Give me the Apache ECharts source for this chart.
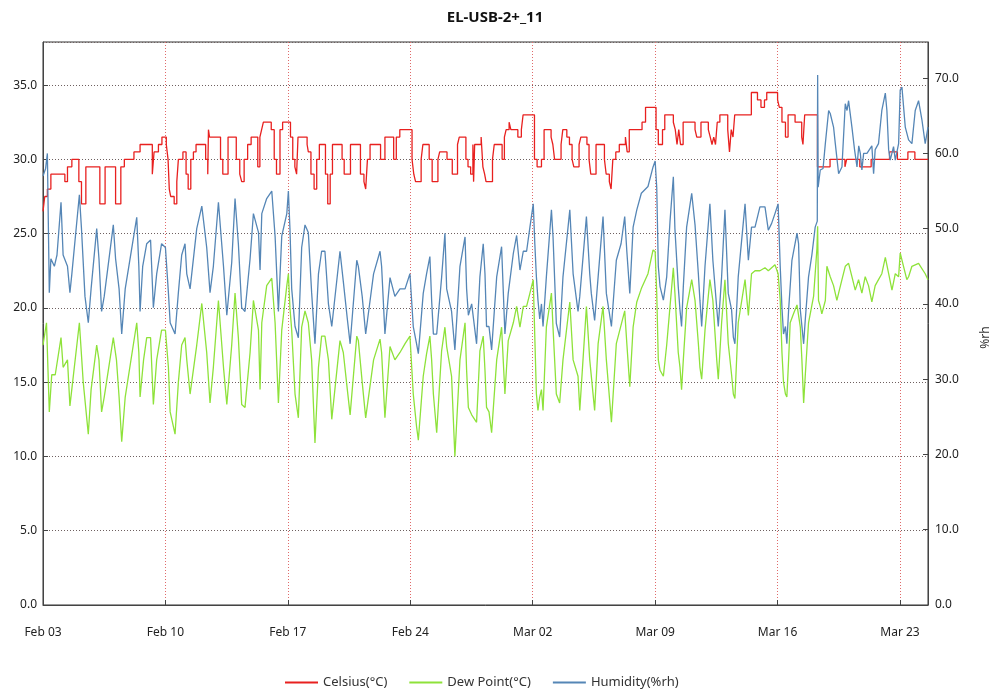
<!DOCTYPE html>
<html>
<head>
<meta charset="utf-8">
<title>EL-USB-2+_11</title>
<script src="https://cdn.jsdelivr.net/npm/echarts@6/dist/echarts.min.js"></script>
<style>
  html, body { margin: 0; padding: 0; background: #fff; }
  #chart { width: 994px; height: 692px; }
</style>
</head>
<body>
<div id="chart"></div>
<script>
// Logger EL-USB-2+_11, 3 Feb – 25 Mar. Times are days since Feb 03 00:00.
const weekLabels = ['Feb 03', 'Feb 10', 'Feb 17', 'Feb 24', 'Mar 02', 'Mar 09', 'Mar 16', 'Mar 23'];

// Temperature (°C), 0.5 °C resolution: each value holds until the next time
const celsiusDays = [
  0.00, 0.10, 0.25, 0.45, 1.25, 1.40, 1.65, 2.05, 2.20, 2.45, 3.25, 3.55, 4.15, 4.45, 4.65, 5.20, 5.55, 6.25, 6.35, 6.60, 6.80,
  7.05, 7.15, 7.22, 7.30, 7.50, 7.65, 7.74, 8.00, 8.18, 8.30, 8.45, 8.60, 8.75, 9.30, 9.42, 9.46, 9.52, 10.15, 10.28, 10.58,
  11.05, 11.25, 11.36, 11.50, 11.70, 11.90, 12.28, 12.40, 12.50, 12.60, 13.05, 13.22, 13.35, 13.55, 13.70,
  14.15, 14.28, 14.40, 14.50, 14.58, 15.10, 15.17, 15.32, 15.50, 15.65, 15.80, 16.15, 16.28, 16.42, 16.55, 17.10, 17.22, 17.58,
  18.15, 18.35, 18.45, 18.55, 18.70, 19.30, 19.55, 20.05, 20.20, 20.40,
  21.10, 21.20, 21.30, 21.62, 21.72, 22.08, 22.25, 22.58, 22.68, 23.10, 23.40, 23.70, 23.80, 24.18, 24.30, 24.45, 24.58, 24.62, 24.68,
  25.05, 25.15, 25.25, 25.33, 25.70, 25.80, 26.25, 26.38, 26.48, 26.65, 26.75, 27.15, 27.35, 27.45,
  28.10, 28.25, 28.50, 28.65, 29.05, 29.15, 29.25, 29.62, 29.72, 29.95, 30.10, 30.25, 30.35, 30.65, 30.75, 31.10, 31.22, 31.32, 31.62,
  32.10, 32.20, 32.38, 32.48, 32.58, 32.75, 32.95, 33.30, 33.40, 33.52, 34.25, 34.45,
  35.05, 35.18, 35.42, 35.55, 36.04, 36.15, 36.25, 36.35, 36.45, 36.60, 37.28, 37.38, 37.62, 38.04, 38.15, 38.25, 38.35, 38.45, 38.55, 38.70,
  39.15, 39.25, 39.35, 39.45, 39.55, 40.50, 40.85, 41.05, 41.25, 41.38,
  42.00, 42.10, 42.25, 42.45, 42.60, 43.00, 43.38, 43.45, 43.55, 44.28, 45.00, 45.85, 45.95, 46.70, 47.35, 48.40, 48.85, 49.45, 49.85, 50.60
];
const celsiusVals = [
  26.5, 27.5, 28.0, 29.0, 28.5, 29.5, 30.0, 28.5, 27.0, 29.5, 27.0, 29.5, 27.0, 29.5, 30.0, 30.5, 31.0, 29.0, 30.5, 31.0, 31.5,
  31.0, 30.0, 28.0, 27.5, 27.0, 28.5, 30.0, 30.5, 29.0, 28.0, 30.0, 30.5, 31.0, 30.0, 29.0, 32.0, 31.5, 30.0, 29.0, 31.5,
  30.0, 29.0, 28.5, 30.0, 31.0, 31.5, 29.5, 31.5, 32.0, 32.5, 32.0, 30.0, 29.0, 32.0, 32.5,
  31.5, 30.0, 29.5, 29.0, 31.5, 31.0, 30.5, 29.0, 28.0, 30.0, 31.0, 29.0, 27.0, 29.0, 31.0, 30.0, 29.0, 31.0,
  29.0, 28.5, 28.0, 30.0, 31.0, 30.0, 31.5, 30.0, 31.5, 32.0,
  30.0, 29.0, 28.5, 30.0, 31.0, 30.0, 28.5, 30.0, 30.5, 30.0, 29.0, 31.0, 31.5, 30.0, 29.5, 29.0, 31.0, 28.5, 31.0,
  31.5, 29.5, 29.0, 28.5, 30.0, 31.0, 30.0, 31.5, 32.0, 32.5, 32.0, 31.5, 32.0, 33.0,
  30.0, 29.5, 30.0, 32.0, 31.5, 31.0, 30.0, 31.0, 32.0, 31.5, 31.0, 30.0, 29.5, 31.0, 31.5, 31.0, 30.0, 29.0, 31.0,
  30.0, 29.0, 28.5, 28.0, 30.0, 30.5, 31.0, 31.5, 30.5, 32.0, 32.5, 33.5,
  32.0, 31.0, 32.0, 33.0, 32.5, 32.0, 31.0, 32.0, 31.0, 32.5, 32.0, 31.5, 32.5, 32.0, 31.5, 31.0, 31.5, 31.0, 32.5, 33.0,
  32.0, 30.5, 32.0, 31.5, 33.0, 34.5, 34.0, 33.5, 34.0, 34.5,
  34.0, 33.5, 32.5, 31.5, 33.0, 32.5, 31.5, 31.0, 33.0, 29.5, 30.0, 29.5, 30.0, 29.5, 30.0, 30.5, 30.0, 30.5, 30.0, 30.0
];

// Dew point (°C)
const dewDays = [
  0.00, 0.20, 0.36, 0.50, 0.70, 1.03, 1.15, 1.40, 1.54, 2.08, 2.30, 2.59, 2.75, 3.07, 3.20, 3.35, 3.50, 4.02, 4.20, 4.35, 4.50, 4.70,
  5.36, 5.48, 5.55, 5.75, 5.93, 6.15, 6.31, 6.50, 6.78, 7.00,
  7.17, 7.27, 7.55, 7.74, 7.93, 8.12, 8.22, 8.41, 8.79, 9.08, 9.36, 9.55, 9.74, 10.03, 10.32, 10.51, 10.79, 10.98, 11.17, 11.36, 11.55,
  11.84, 12.03, 12.32, 12.41, 12.51, 12.79, 13.08, 13.27, 13.46, 13.65, 13.94, 14.03,
  14.12, 14.22, 14.41, 14.60, 14.79, 14.98, 15.17, 15.36, 15.55, 15.75, 15.93, 16.12, 16.32, 16.51, 16.98, 17.17, 17.40, 17.56,
  17.94, 18.03, 18.25, 18.45, 18.90, 19.27, 19.36, 19.55, 19.84, 20.12, 20.41, 20.70, 20.98,
  21.17, 21.36, 21.46, 21.74, 21.93, 22.12, 22.22, 22.32, 22.51, 22.79, 22.98, 23.08, 23.36, 23.55, 23.84, 24.13, 24.22, 24.32, 24.51,
  24.79, 24.98, 25.17, 25.27, 25.36, 25.50, 25.65, 25.94, 26.22, 26.41, 26.60, 26.89, 27.08, 27.27, 27.46, 27.65, 27.84, 28.03,
  28.12, 28.21, 28.30, 28.40, 28.50, 28.59, 28.78, 29.07, 29.16, 29.35, 29.54, 29.73, 30.12, 30.31, 30.59, 30.69, 31.07, 31.26, 31.54,
  31.74, 32.02, 32.21, 32.50, 32.78, 33.26, 33.38, 33.55, 33.74, 33.95, 34.21, 34.59, 34.88, 35.00,
  35.09, 35.18, 35.28, 35.47, 35.66, 35.85, 36.04, 36.13, 36.32, 36.42, 36.51, 36.61, 36.80, 37.09, 37.28, 37.47, 37.56, 37.66, 37.85,
  38.13, 38.30, 38.52, 38.61, 38.80, 38.99, 39.18, 39.37, 39.47, 39.56, 39.75, 40.14, 40.33, 40.51, 40.71, 40.99, 41.28, 41.47, 41.66,
  41.85, 42.03,
  42.15, 42.25, 42.34, 42.45, 42.53, 42.63, 42.72, 42.91, 43.11, 43.30, 43.39, 43.49, 43.58, 43.77, 44.06, 44.25, 44.29, 44.34, 44.44,
  44.53, 44.73, 44.82, 45.01, 45.20, 45.39, 45.49, 45.68, 45.87, 46.06, 46.25, 46.44, 46.63, 46.82, 47.01, 47.20, 47.39, 47.58, 47.77,
  47.96, 48.16, 48.35, 48.54, 48.73, 48.92, 49.01, 49.20, 49.39, 49.49, 49.68, 50.06, 50.44, 50.60
];
const dewVals = [
  17.5, 19.0, 13.0, 15.5, 15.5, 18.0, 16.0, 16.5, 13.4, 19.0, 15.0, 11.5, 14.5, 17.5, 16.5, 13.0, 14.0, 18.0, 16.5, 14.0, 11.0, 14.0,
  19.0, 17.0, 14.0, 16.5, 18.0, 18.0, 13.5, 16.5, 18.5, 18.5,
  16.0, 13.0, 11.5, 15.0, 17.5, 18.0, 16.5, 14.2, 17.5, 20.3, 17.0, 13.6, 16.0, 20.5, 16.0, 13.5, 17.5, 21.0, 18.0, 13.5, 13.3,
  17.0, 20.5, 18.5, 14.5, 19.0, 21.5, 22.0, 19.0, 13.6, 18.5, 21.5, 22.3,
  20.0, 18.5, 14.2, 12.6, 18.7, 19.8, 19.0, 16.5, 10.9, 16.0, 18.1, 18.1, 16.5, 12.5, 17.8, 17.0, 14.5, 12.8,
  18.1, 17.8, 15.0, 12.6, 16.5, 17.9, 17.0, 12.6, 17.4, 16.5, 17.0, 17.6, 18.1,
  14.2, 12.0, 11.1, 15.4, 16.9, 18.1, 16.5, 14.2, 11.6, 17.1, 18.7, 17.4, 15.4, 10.0, 16.5, 19.0, 15.8, 13.3, 12.8,
  12.3, 17.1, 18.1, 15.8, 13.3, 13.0, 11.6, 16.5, 18.7, 14.2, 17.8, 19.0, 20.1, 18.7, 20.1, 20.1, 21.0, 21.9,
  18.0, 14.2, 13.1, 14.0, 14.5, 13.1, 18.7, 21.0, 18.7, 14.2, 13.6, 16.5, 20.4, 16.5, 15.4, 13.1, 20.1, 16.5, 13.1,
  17.6, 20.1, 16.5, 12.3, 17.6, 19.8, 17.6, 14.7, 18.7, 20.4, 21.3, 22.3, 23.9, 23.8,
  21.0, 16.5, 15.8, 15.4, 17.5, 20.1, 22.7, 21.0, 17.0, 16.0, 14.5, 16.5, 20.0, 21.9, 20.5, 17.6, 16.0, 15.2, 18.5,
  21.9, 20.5, 16.5, 15.2, 19.0, 21.9, 17.6, 15.5, 14.2, 13.9, 19.0, 21.9, 19.5, 22.3, 22.5, 22.5, 22.7, 22.5, 22.7,
  22.9, 22.3,
  20.5, 17.0, 15.0, 14.2, 14.0, 16.5, 19.0, 19.6, 20.2, 18.7, 16.5, 13.6, 15.4, 19.0, 20.8, 24.0, 25.5, 20.5, 20.1,
  19.6, 20.5, 22.8, 22.1, 21.5, 20.5, 21.0, 21.9, 22.8, 23.0, 22.1, 21.2, 21.9, 21.0, 22.1, 21.5, 20.4, 21.5, 21.9,
  22.3, 23.4, 22.3, 21.2, 22.3, 22.1, 23.7, 22.8, 21.9, 22.1, 22.8, 23.0, 22.3, 21.9
];

// Relative humidity (%rh)
const humDays = [
  0.00, 0.15, 0.25, 0.36, 0.45, 0.65, 0.80, 1.03, 1.15, 1.40, 1.54, 1.65, 2.08, 2.20, 2.40, 2.59, 2.75, 3.07, 3.20, 3.35, 3.50,
  4.02, 4.15, 4.35, 4.50, 4.70, 5.36, 5.48, 5.55, 5.70, 5.93, 6.15, 6.31, 6.50, 6.78, 7.00,
  7.17, 7.27, 7.55, 7.74, 7.93, 8.12, 8.22, 8.41, 8.79, 9.08, 9.36, 9.55, 9.74, 10.03, 10.32, 10.51, 10.79, 10.98, 11.17, 11.36, 11.55,
  11.84, 12.03, 12.32, 12.41, 12.51, 12.79, 13.08, 13.27, 13.46, 13.65, 13.94, 14.03,
  14.12, 14.22, 14.41, 14.60, 14.79, 14.98, 15.17, 15.36, 15.55, 15.75, 15.93, 16.12, 16.32, 16.51, 16.98, 17.17, 17.40, 17.56,
  17.94, 18.03, 18.25, 18.45, 18.90, 19.27, 19.36, 19.55, 19.84, 20.12, 20.41, 20.70, 20.98,
  21.17, 21.36, 21.46, 21.74, 21.93, 22.12, 22.22, 22.32, 22.51, 22.79, 22.98, 23.08, 23.36, 23.55, 23.84, 24.13, 24.22, 24.32, 24.51,
  24.79, 24.98, 25.17, 25.27, 25.36, 25.50, 25.65, 25.94, 26.22, 26.41, 26.60, 26.89, 27.08, 27.27, 27.46, 27.65, 27.84, 28.03,
  28.12, 28.21, 28.30, 28.40, 28.50, 28.59, 28.78, 29.07, 29.16, 29.35, 29.54, 29.73, 30.12, 30.31, 30.59, 30.69, 31.07, 31.26, 31.35,
  31.54, 31.74, 32.02, 32.21, 32.50, 32.78, 33.05, 33.26, 33.38, 33.55, 33.74, 33.95, 34.21, 34.59, 34.88, 35.00,
  35.09, 35.18, 35.28, 35.47, 35.66, 35.85, 36.04, 36.13, 36.32, 36.42, 36.51, 36.61, 36.80, 37.09, 37.28, 37.47, 37.56, 37.66, 37.85,
  38.13, 38.30, 38.52, 38.61, 38.80, 38.99, 39.18, 39.37, 39.47, 39.56, 39.75, 40.14, 40.33, 40.51, 40.71, 40.99, 41.28, 41.47, 41.66,
  41.85, 42.03,
  42.15, 42.25, 42.34, 42.45, 42.53, 42.63, 42.82, 43.11, 43.20, 43.30, 43.49, 43.58, 43.77, 43.96, 44.15, 44.27, 44.29, 44.32, 44.44,
  44.60, 44.73, 44.92, 45.01, 45.20, 45.30, 45.49, 45.68, 45.87, 45.97, 46.06, 46.25, 46.40, 46.54, 46.64, 46.73, 46.82, 46.92, 47.11,
  47.39, 47.49, 47.58, 47.77, 47.96, 48.16, 48.25, 48.35, 48.44, 48.63, 48.73, 48.92, 49.01, 49.11, 49.30, 49.49, 49.68, 49.87, 50.06,
  50.25, 50.44, 50.60
];
const humVals = [
  57.0, 58.0, 60.0, 41.5, 46.0, 45.0, 46.5, 53.5, 46.5, 45.0, 41.5, 44.0, 54.5, 50.0, 41.0, 37.5, 42.0, 50.0, 46.0, 39.0, 41.0,
  50.5, 46.0, 42.0, 36.0, 42.0, 51.5, 45.0, 39.0, 45.0, 48.0, 48.5, 39.5, 44.0, 48.0, 47.5,
  41.5, 37.5, 36.0, 41.5, 46.5, 48.0, 44.0, 42.0, 50.0, 53.0, 47.5, 41.5, 45.0, 53.5, 45.0, 38.5, 45.5, 54.0, 48.0, 39.5, 39.0,
  46.0, 52.0, 49.5, 44.5, 52.0, 54.0, 55.0, 49.0, 39.0, 49.0, 52.0, 55.0,
  50.0, 42.0, 37.0, 35.5, 47.5, 50.5, 49.5, 41.5, 34.7, 44.0, 47.0, 47.0, 40.0, 37.0, 47.0, 43.0, 38.0, 34.7,
  45.8, 45.0, 41.0, 36.0, 44.0, 47.0, 45.0, 36.0, 43.5, 41.0, 42.0, 42.0, 44.0,
  37.0, 34.7, 33.4, 41.4, 44.0, 46.3, 40.5, 36.0, 36.0, 43.5, 49.4, 42.0, 39.0, 33.9, 45.0, 48.9, 42.0, 38.5, 40.0,
  34.7, 43.6, 48.0, 44.0, 37.0, 37.0, 33.9, 43.6, 47.6, 36.0, 41.4, 46.7, 49.1, 44.5, 47.0, 47.0, 50.2, 53.3,
  48.0, 43.6, 40.5, 38.0, 40.0, 37.0, 43.6, 52.5, 49.0, 37.4, 35.6, 43.6, 52.5, 44.0, 39.0, 41.0, 51.6, 44.0, 41.4,
  37.8, 43.6, 51.6, 41.4, 37.0, 45.8, 48.0, 51.6, 47.0, 41.4, 50.2, 52.5, 54.7, 55.6, 58.2, 59.0,
  55.5, 45.0, 42.3, 40.5, 43.6, 51.0, 56.9, 50.0, 42.3, 39.2, 37.0, 42.3, 50.2, 54.7, 50.5, 44.0, 40.5, 37.0, 45.0,
  53.3, 45.8, 39.5, 37.0, 43.6, 52.5, 41.4, 39.2, 35.6, 34.7, 43.6, 53.3, 45.8, 50.2, 50.2, 52.9, 52.9, 49.8, 50.7,
  52.0, 53.3,
  45.0, 39.5, 36.0, 37.0, 34.7, 39.2, 45.8, 49.4, 48.0, 39.2, 34.7, 37.8, 43.6, 46.5, 50.2, 51.0, 70.4, 55.5, 57.8,
  58.0, 61.3, 65.7, 65.3, 63.5, 61.3, 57.3, 58.2, 66.6, 65.7, 67.0, 63.5, 60.5, 58.2, 61.0, 60.0, 57.8, 60.0, 60.0,
  61.0, 57.3, 60.5, 61.3, 65.7, 68.0, 65.7, 60.5, 59.1, 60.9, 59.1, 61.3, 68.4, 68.8, 63.5, 61.8, 61.3, 65.7, 67.0,
  64.5, 61.3, 63.5
];

const pairs = (xs, ys) => xs.map((x, i) => [x, ys[i]]);

const labelFont = { fontFamily: 'Noto Sans', fontSize: 12, color: '#222' };

const chart = echarts.init(document.getElementById('chart'), null, { renderer: 'canvas' });
chart.setOption({
  backgroundColor: '#ffffff',
  animation: false,
  title: {
    text: 'EL-USB-2+_11',
    left: 490, top: 5, textAlign: 'center',
    textStyle: { fontFamily: 'Noto Sans', fontSize: 15, fontWeight: 'bold', color: '#111' }
  },
  grid: {
    left: 43, right: 66, top: 42, bottom: 87,
    containLabel: false, outerBoundsMode: 'none',
    show: true, borderColor: '#333', borderWidth: 1, backgroundColor: 'transparent'
  },
  legend: {
    left: 280, top: 671,
    itemWidth: 33, itemHeight: 2, itemGap: 22,
    icon: 'rect',
    textStyle: { fontFamily: 'Noto Sans', fontSize: 13, color: '#333' },
    data: ['Celsius(°C)', 'Dew Point(°C)', 'Humidity(%rh)']
  },
  xAxis: {
    type: 'value', min: 0, max: 50.6, interval: 7,
    axisLine: { show: true, lineStyle: { color: '#444', width: 1 } },
    axisTick: { show: true, inside: true, length: 5, lineStyle: { color: '#444' } },
    axisLabel: {
      ...labelFont, margin: 22, showMaxLabel: false,
      formatter: v => (Math.abs(v / 7 - Math.round(v / 7)) < 1e-6 ? (weekLabels[Math.round(v / 7)] || '') : '')
    },
    splitLine: { show: true, lineStyle: { color: '#e06a6a', type: [1, 2], width: 1 } }
  },
  yAxis: [
    {
      type: 'value', min: 0, max: 37.9, interval: 5, position: 'left',
      axisLine: { show: true, lineStyle: { color: '#444', width: 1 } },
      axisTick: { show: true, inside: true, length: 5, lineStyle: { color: '#444' } },
      axisLabel: { ...labelFont, margin: 6, showMaxLabel: false, formatter: v => v.toFixed(1) },
      splitLine: { show: true, lineStyle: { color: '#6e6060', type: [1, 2], width: 1 } }
    },
    {
      type: 'value', min: 0, max: 74.8, interval: 10, position: 'right',
      name: '%rh', nameLocation: 'middle', nameGap: 52, nameRotate: 90,
      nameTextStyle: { fontFamily: 'Noto Sans', fontSize: 12, color: '#333', padding: [0, 28, 0, 0] },
      axisLine: { show: true, lineStyle: { color: '#444', width: 1 } },
      axisTick: { show: true, inside: true, length: 5, lineStyle: { color: '#444' } },
      axisLabel: { ...labelFont, margin: 7, showMaxLabel: false, formatter: v => v.toFixed(1) },
      splitLine: { show: false }
    }
  ],
  series: [
    {
      name: 'Celsius(°C)', type: 'line', yAxisIndex: 0, step: 'end',
      data: pairs(celsiusDays, celsiusVals), showSymbol: false,
      lineStyle: { color: '#e8201f', width: 1.3 }, itemStyle: { color: '#e8201f' }, z: 3
    },
    {
      name: 'Dew Point(°C)', type: 'line', yAxisIndex: 0,
      data: pairs(dewDays, dewVals), showSymbol: false,
      lineStyle: { color: '#8ee23a', width: 1.3 }, itemStyle: { color: '#8ee23a' }, z: 2
    },
    {
      name: 'Humidity(%rh)', type: 'line', yAxisIndex: 1,
      data: pairs(humDays, humVals), showSymbol: false,
      lineStyle: { color: '#5586b6', width: 1.3 }, itemStyle: { color: '#5586b6' }, z: 4
    }
  ]
});
</script>
</body>
</html>
